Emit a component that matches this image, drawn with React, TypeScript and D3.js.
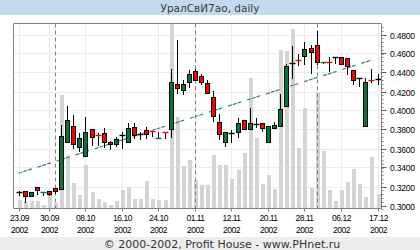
import React from "react";
import * as d3 from "d3";

const dates = [
  "23.09","24.09","25.09","26.09","27.09","30.09","01.10","02.10","03.10","04.10",
  "07.10","08.10","09.10","10.10","11.10","14.10","15.10","16.10","17.10","18.10",
  "21.10","22.10","23.10","24.10","25.10","28.10","29.10","30.10","31.10","01.11",
  "04.11","05.11","06.11","08.11","11.11","12.11","13.11","14.11","15.11","18.11",
  "19.11","20.11","21.11","22.11","25.11","26.11","27.11","28.11","29.11","02.12",
  "03.12","04.12","05.12","06.12","09.12","10.12","11.12","13.12","16.12","17.12",
];

const opens = [
  0.3140,0.3150,0.3098,0.3192,0.3137,0.3157,0.3185,0.3171,0.3672,0.3833,
  0.3620,0.3518,0.3805,0.3742,0.3760,0.3665,0.3644,0.3740,0.3672,0.3830,
  0.3752,0.3791,0.3786,0.3708,0.3772,0.3801,0.4284,0.4214,0.4295,0.4417,
  0.4368,0.4288,0.4137,0.3875,0.3665,0.3766,0.3777,0.3900,0.3805,0.3854,
  0.3864,0.3672,0.3819,0.3836,0.4046,0.4501,0.4531,0.4575,0.4662,0.4687,
  0.4503,0.4507,0.4564,0.4564,0.4557,0.4431,0.4347,0.3840,0.4321,0.4333,
];
const highs = [
  0.3154,0.3152,0.3140,0.3192,0.3140,0.3157,0.3185,0.3847,0.4046,0.3952,
  0.3760,0.3931,0.3805,0.3760,0.3812,0.3679,0.3717,0.3777,0.3864,0.3864,
  0.3773,0.3822,0.3786,0.3770,0.3772,0.4442,0.4739,0.4326,0.4424,0.4442,
  0.4389,0.4320,0.4204,0.3962,0.3770,0.3794,0.3917,0.3900,0.4022,0.3917,
  0.3864,0.3836,0.3875,0.4172,0.4494,0.4676,0.4599,0.4722,0.4694,0.4837,
  0.4507,0.4564,0.4564,0.4564,0.4557,0.4431,0.4347,0.4337,0.4442,0.4382,
];
const lows = [
  0.3110,0.3040,0.3098,0.3120,0.3110,0.3110,0.3130,0.3171,0.3672,0.3602,
  0.3577,0.3518,0.3637,0.3637,0.3620,0.3595,0.3626,0.3605,0.3672,0.3707,
  0.3696,0.3707,0.3730,0.3708,0.3707,0.3724,0.4180,0.4172,0.4250,0.4319,
  0.4277,0.4180,0.3892,0.3700,0.3630,0.3672,0.3724,0.3801,0.3805,0.3829,
  0.3787,0.3672,0.3819,0.3836,0.4046,0.4347,0.4477,0.4494,0.4396,0.4487,
  0.4503,0.4417,0.4501,0.4494,0.4382,0.4284,0.4256,0.3840,0.4295,0.4277,
];
const closes = [
  0.3140,0.3100,0.3140,0.3160,0.3140,0.3123,0.3155,0.3728,0.3896,0.3647,
  0.3710,0.3770,0.3717,0.3738,0.3665,0.3644,0.3696,0.3740,0.3812,0.3738,
  0.3752,0.3752,0.3782,0.3712,0.3768,0.4295,0.4232,0.4284,0.4379,0.4319,
  0.4295,0.4180,0.3941,0.3752,0.3770,0.3766,0.3864,0.3801,0.3868,0.3854,
  0.3812,0.3836,0.3847,0.4011,0.4466,0.4501,0.4527,0.4652,0.4613,0.4512,
  0.4507,0.4503,0.4564,0.4494,0.4470,0.4326,0.4347,0.4295,0.4317,0.4333,
];
const volumes = [
  25,20,22,22,10,43,18,340,160,78,
  40,130,49,30,19,10,24,57,64,28,
  28,82,28,25,25,620,275,127,145,85,
  70,70,160,130,130,88,115,168,393,211,
  73,100,60,477,473,538,183,301,63,350,
  172,55,22,57,79,118,73,33,155,45,
];

const tickDates = ["23.09","30.09","08.10","16.10","24.10","01.11","12.11","20.11","28.11","06.12","17.12"];
const tickYear = "2002";
const monthStarts = ["01.10","01.11","02.12"];
const yTicks = [0.30,0.32,0.34,0.36,0.38,0.40,0.42,0.44,0.46,0.48];
const trendDates = ["23.09","16.12"];
const trendValues = [0.334, 0.453];
const title = "УралСвИ7ао, daily";
const footer = "© 2000-2002, Profit House - www.PHnet.ru";

const W = 420, H = 250;
const L = 13.5, R = 381.5, T = 23.5, B = 208.5;

export default function App() {
  const x = d3.scalePoint<string>().domain(dates).range([18.5, 377.5]);
  const y = d3.scaleLinear().domain([0.30, 0.48]).range([205.5, 34.5]);
  const v = d3.scaleLinear().domain([0, 555]).range([B, T]);
  const minor = d3.range(0.296, 0.4901, 0.004);
  const cx = (d: string) => Math.round(x(d) as number) + 0.5;
  const py = (val: number) => Math.round(y(val)) + 0.5;
  const green = "#00773c", red = "#ff0000";

  return (
    <div style={{ position: "fixed", left: 0, top: 0 }}>
      <svg width={W} height={H} style={{ display: "block", background: "#fff" }}>
        <defs>
          <clipPath id="plotclip"><rect x={L} y={T} width={R - L} height={B - T} /></clipPath>
        </defs>
        <rect x={0} y={0} width={W} height={15} fill="#c5d9ee" />
        <text x={210} y={11.5} textAnchor="middle" fontFamily="DejaVu Sans" fontSize={10.5} fill="#3a3a3a">{title}</text>

        {/* grid */}
        {yTicks.map((t) => (
          <line key={"gy" + t} x1={L} x2={R} y1={py(t)} y2={py(t)} stroke="#ebebeb" strokeWidth={1} />
        ))}
        {tickDates.map((d) => (
          <line key={"gx" + d} x1={cx(d)} x2={cx(d)} y1={T} y2={B} stroke="#ebebeb" strokeWidth={1} />
        ))}

        {/* volume */}
        <g clipPath="url(#plotclip)">
          {dates.map((d, i) => (
            <rect key={"v" + d} x={cx(d) - 2} y={Math.round(v(volumes[i]))} width={4}
              height={B - Math.round(v(volumes[i]))} fill="#d4d4d4" shapeRendering="crispEdges" />
          ))}
        </g>

        {/* month separators */}
        {monthStarts.map((d) => (
          <line key={"m" + d} x1={cx(d)} x2={cx(d)} y1={T} y2={B} stroke="#808080" strokeWidth={1} strokeDasharray="4,3" />
        ))}

        {/* trend */}
        <line x1={x(trendDates[0])} x2={x(trendDates[1])} y1={y(trendValues[0])} y2={y(trendValues[1])}
          stroke="#3d7f7f" strokeWidth={1.2} strokeDasharray="4,1,4,1,4,6" />

        {/* candles */}
        {dates.map((d, i) => {
          const o = opens[i], c = closes[i], h = highs[i], l = lows[i];
          const xc = cx(d);
          const yo = y(o), yc = y(c);
          const up = c > o;
          const col = o === c ? "#000" : up ? green : red;
          const top = Math.round(Math.min(yo, yc)), bot = Math.round(Math.max(yo, yc));
          return (
            <g key={"c" + d}>
              <line x1={xc} x2={xc} y1={Math.round(y(h))} y2={Math.round(y(l)) + 1} stroke="#000" strokeWidth={1} />
              {bot - top < 2 ? (
                <line x1={xc - 3} x2={xc + 3} y1={top + 0.5} y2={top + 0.5} stroke={col} strokeWidth={1.4} />
              ) : (
                <rect x={xc - 2} y={top + 0.5} width={4} height={bot - top} fill={col} stroke="#000" strokeWidth={1} />
              )}
            </g>
          );
        })}

        {/* frame */}
        <line x1={L} x2={L} y1={T} y2={B} stroke="#808080" />
        <line x1={L} x2={R} y1={T} y2={T} stroke="#808080" />
        <line x1={L} x2={R} y1={B} y2={B} stroke="#808080" />
        <line x1={R} x2={R} y1={T} y2={B} stroke="#808080" />

        {/* right axis */}
        {minor.map((t, k) => (
          <line key={"mn" + k} x1={R} x2={R + 2} y1={py(t)} y2={py(t)} stroke="#808080" />
        ))}
        {yTicks.map((t) => (
          <g key={"yt" + t}>
            <line x1={R} x2={R + 5} y1={py(t)} y2={py(t)} stroke="#606060" />
            <text x={390} y={py(t) + 3} fontFamily="Liberation Sans" fontSize={8.5} fill="#000" letterSpacing={-0.2}>
              {d3.format(".4f")(t)}
            </text>
          </g>
        ))}

        {/* x axis */}
        {tickDates.map((d) => (
          <g key={"xt" + d}>
            <line x1={cx(d)} x2={cx(d)} y1={B} y2={B + 3} stroke="#808080" />
            <text x={cx(d)} y={221} textAnchor="middle" fontFamily="Liberation Sans" fontSize={8.5} letterSpacing={-0.5} fill="#000">{d}</text>
            <text x={cx(d)} y={233} textAnchor="middle" fontFamily="Liberation Sans" fontSize={8.5} letterSpacing={-0.5} fill="#000">{tickYear}</text>
          </g>
        ))}

        <rect x={0} y={237} width={W} height={13} fill="#eeeeee" />
        <text x={222} y={247.5} textAnchor="middle" fontFamily="DejaVu Sans" fontSize={11} fill="#333">{footer}</text>
      </svg>
    </div>
  );
}
